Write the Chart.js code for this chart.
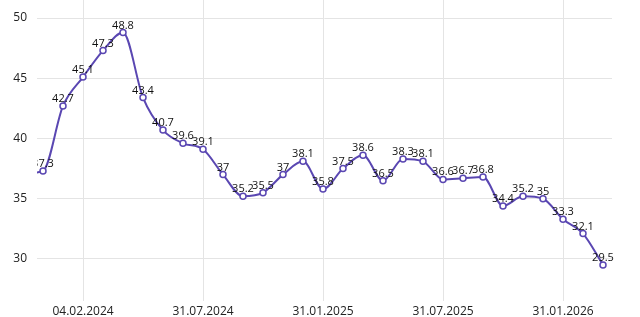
<!DOCTYPE html>
<html>
<head>
<meta charset="utf-8">
<script src="https://cdn.jsdelivr.net/npm/chart.js@4/dist/chart.umd.min.js"></script>
<style>
  html, body { margin: 0; padding: 0; background: #fff; }
  #wrap { width: 640px; height: 317px; position: relative; }
</style>
</head>
<body>
<div id="wrap"><canvas id="rate-chart"></canvas></div>
<script>
// monthly readings; first one sits just left of the visible range
const DATES = [
  "31.10.2023", "30.11.2023", "31.12.2023", "04.02.2024", "29.02.2024", "31.03.2024",
  "30.04.2024", "31.05.2024", "30.06.2024", "31.07.2024", "31.08.2024", "30.09.2024",
  "31.10.2024", "30.11.2024", "31.12.2024", "31.01.2025", "28.02.2025", "31.03.2025",
  "30.04.2025", "31.05.2025", "30.06.2025", "31.07.2025", "31.08.2025", "30.09.2025",
  "31.10.2025", "30.11.2025", "31.12.2025", "31.01.2026", "28.02.2026", "31.03.2026",
];

const VALUES = [
  37.1, 37.3, 42.7, 45.1, 47.3, 48.8, 43.4, 40.7, 39.6, 39.1,
  37, 35.2, 35.5, 37, 38.1, 35.8, 37.5, 38.6, 36.5, 38.3,
  38.1, 36.6, 36.7, 36.8, 34.4, 35.2, 35, 33.3, 32.1, 29.5,
];

const TICK_INDEXES = [3, 9, 15, 21, 27];
const Y_TICKS = [30, 35, 40, 45, 50];

const LINE_COLOR = "#5a47b2";

// value labels above each point; cut off only on the left, like the source
const pointLabels = {
  id: "pointLabels",
  afterDatasetsDraw(chart) {
    const { ctx, chartArea } = chart;
    const meta = chart.getDatasetMeta(0);
    ctx.save();
    ctx.beginPath();
    ctx.rect(chartArea.left, chartArea.top, chart.width - chartArea.left, chartArea.bottom - chartArea.top);
    ctx.clip();
    ctx.font = "11px 'Open Sans', sans-serif";
    ctx.fillStyle = "#111";
    ctx.textAlign = "center";
    ctx.textBaseline = "alphabetic";
    meta.data.forEach((pt, i) => {
      ctx.fillText(String(VALUES[i]), pt.x, pt.y - 4);
    });
    ctx.restore();
  },
};

// no extra room for edge labels, the plot runs to the canvas top
const noEdgePadding = (scale) => {
  scale.paddingTop = 0;
  scale.paddingBottom = 0;
  scale.paddingLeft = 0;
  scale.paddingRight = 0;
};

new Chart(document.getElementById("rate-chart"), {
  type: "line",
  data: {
    datasets: [{
      data: VALUES.map((v, i) => ({ x: i, y: v })),
      borderColor: LINE_COLOR,
      backgroundColor: "#fff",
      borderWidth: 2,
      pointRadius: 3,
      pointBorderWidth: 1.5,
      pointBackgroundColor: "#fff",
      pointBorderColor: LINE_COLOR,
      cubicInterpolationMode: "monotone",
    }],
  },
  options: {
    animation: false,
    responsive: true,
    maintainAspectRatio: false,
    layout: { autoPadding: false, padding: { left: 0, right: 28, top: 0, bottom: 0 } },
    plugins: { legend: { display: false }, tooltip: { enabled: false } },
    scales: {
      x: {
        type: "linear",
        min: 0.7,
        max: 29.45,
        afterBuildTicks: (scale) => { scale.ticks = TICK_INDEXES.map((v) => ({ value: v })); },
        afterFit: (scale) => { noEdgePadding(scale); scale.height = 28; },
        ticks: {
          autoSkip: false,
          maxRotation: 0,
          padding: 3,
          color: "#222",
          font: { family: "'Open Sans', sans-serif", size: 12 },
          callback: (v) => DATES[v] || "",
        },
        grid: { color: "#e4e4e4", lineWidth: 1, drawTicks: true, tickLength: 12, tickColor: "#e4e4e4" },
        border: { display: false },
      },
      y: {
        min: 27.5,
        max: 51.5,
        afterFit: (scale) => { noEdgePadding(scale); scale.width = 37; },
        afterBuildTicks: (scale) => { scale.ticks = Y_TICKS.map((v) => ({ value: v })); },
        ticks: {
          padding: 10,
          color: "#222",
          font: { family: "'Open Sans', sans-serif", size: 12 },
        },
        grid: { color: "#e4e4e4", lineWidth: 1, drawTicks: false },
        border: { display: false },
      },
    },
  },
  plugins: [pointLabels],
});
</script>
</body>
</html>
